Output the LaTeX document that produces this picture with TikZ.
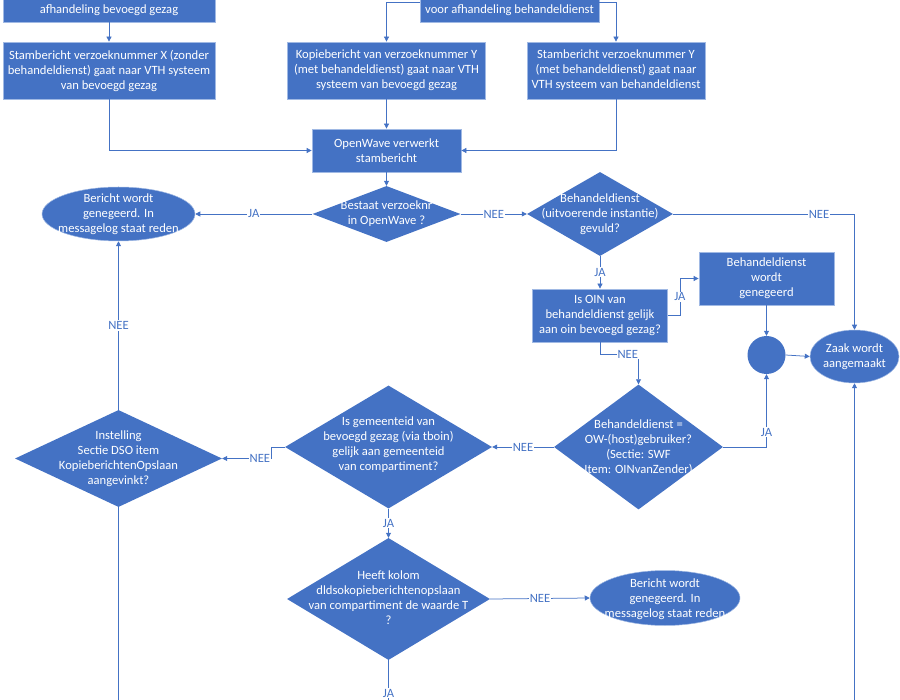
\documentclass[tikz,border=0pt]{standalone}
\usepackage{fontspec}
\setmainfont{Carlito}
\usetikzlibrary{shapes.geometric,arrows.meta}
\definecolor{ofblue}{RGB}{68,114,196}
\definecolor{edgeblue}{RGB}{160,185,228}
\begin{document}
\begin{tikzpicture}[x=1pt,y=-1pt,
  box/.style={rectangle, fill=ofblue, draw=edgeblue, line width=0.75pt, inner sep=0pt},
  dia/.style={diamond, fill=ofblue, draw=none, inner sep=0pt},
  ell/.style={ellipse, fill=ofblue, draw=edgeblue, line width=0.5pt, inner sep=0pt},
  circ/.style={circle, fill=ofblue, draw=none, inner sep=0pt, minimum size=38pt},
  txt/.style={text=white, align=center, font=\fontsize{12.6}{15}\selectfont, inner sep=0pt},
  conn/.style={draw=ofblue, line width=0.75pt, -{Triangle[length=5pt,width=5pt]}},
  plain/.style={draw=ofblue, line width=0.75pt},
  lab/.style={fill=white, text=ofblue, font=\fontsize{12.6}{15}\selectfont, inner sep=1pt}
]
\useasboundingbox (0,0) rectangle (900,700);

% top boxes (cut off)
\node[box, minimum width=212pt, minimum height=40pt] (boxA) at (109,2) {};
\node[txt] (tA) at (109,10) {afhandeling bevoegd gezag};
\node[box, minimum width=179pt, minimum height=40pt] (boxB) at (509.5,2) {};
\node[txt] (tB) at (509.5,10) {voor afhandeling behandeldienst};

% second row
\node[box, minimum width=212pt, minimum height=57pt] (box1) at (109,70.5) {};
\node[txt] at (box1) {Stambericht verzoeknummer X (zonder\\behandeldienst) gaat naar VTH systeem\\van bevoegd gezag};
\node[box, minimum width=198pt, minimum height=57pt] (box2) at (386.5,70.5) {};
\node[txt] at (box2) {Kopiebericht van verzoeknummer Y\\(met behandeldienst) gaat naar VTH\\systeem van bevoegd gezag};
\node[box, minimum width=178pt, minimum height=57pt] (box3) at (616,70.5) {};
\node[txt] at (box3) {Stambericht verzoeknummer Y\\(met behandeldienst) gaat naar\\VTH systeem van behandeldienst};

\node[box, minimum width=149pt, minimum height=43pt] (ow) at (386.5,150.5) {};
\node[txt] at (ow) {OpenWave verwerkt\\stambericht};

% decisions
\node[dia, minimum width=148pt, minimum height=56pt] (d1) at (386.5,214) {};
\node[txt] at (d1) {Bestaat verzoeknr\\in OpenWave ?};
\node[ell, minimum width=153pt, minimum height=54pt] (e1) at (118.5,214) {};
\node[txt] at (118.5,214) {Bericht wordt\\genegeerd. In\\messagelog staat reden};
\node[dia, minimum width=146pt, minimum height=84pt] (d2) at (600,214) {};
\node[txt] at (d2) {Behandeldienst\\(uitvoerende instantie)\\gevuld?};

\node[box, minimum width=135pt, minimum height=53pt] (oin) at (600,315.5) {};
\node[txt] at (oin) {Is OIN van\\behandeldienst gelijk\\aan oin bevoegd gezag?};
\node[box, minimum width=135pt, minimum height=53pt] (bg) at (766.5,278.5) {};
\node[txt] at (bg) {Behandeldienst\\wordt\\genegeerd};
\node[circ] (c) at (766.5,355) {};
\node[ell, minimum width=89pt, minimum height=53pt] (zk) at (854.5,356.5) {};
\node[txt] at (zk) {Zaak wordt\\aangemaakt};

\node[dia, minimum width=169pt, minimum height=125pt] (d3) at (638.5,447) {};
\node[txt] at (d3) {Behandeldienst =\\OW-(host)gebruiker?\\(Sectie: SWF\\Item: OINvanZender)};
\node[dia, minimum width=207pt, minimum height=123pt] (d4) at (388.5,447) {};
\node[txt] at (388.5,445) {Is gemeenteid van\\bevoegd gezag (via tboin)\\gelijk aan gemeenteid\\van compartiment?};
\node[dia, minimum width=207pt, minimum height=97pt] (d5) at (118.5,458.5) {};
\node[txt] at (d5) {Instelling\\Sectie DSO item\\KopieberichtenOpslaan\\aangevinkt?};
\node[dia, minimum width=203pt, minimum height=122pt] (d6) at (388.5,599) {};
\node[txt] at (388.5,598) {Heeft kolom\\dldsokopieberichtenopslaan\\van compartiment de waarde T\\?};
\node[ell, minimum width=150pt, minimum height=55pt] (e2) at (665,598) {};
\node[txt] at (665,599) {Bericht wordt\\genegeerd. In\\messagelog staat reden};

\coordinate (endL) at (118.5,710);
\coordinate (endM) at (388.5,720);
\coordinate (endR) at (854.5,710);

% connectors
\draw[conn] (boxA.south) -- (box1.north);
\draw[conn] (boxB.west) -| (box2.north);
\draw[conn] (boxB.east) -| (box3.north);
\draw[conn] (box1.south) |- (ow.west);
\draw[conn] (box2.south) -- (ow.north);
\draw[conn] (box3.south) |- (ow.east);
\draw[conn] (ow.south) -- (d1.north);
\draw[conn] (d1.west) -- node[lab]{JA} (e1.east);
\draw[conn] (d1.east) -- node[lab]{NEE} (d2.west);
\draw[conn] (d2.east) -| node[lab, pos=0.402]{NEE} (zk.north);
\draw[conn] (d2.south) -- node[lab]{JA} (oin.north);
\draw[conn] (oin.east) -- ++(12,0) |- node[lab, pos=0.25]{JA} (bg.west);
\draw[conn] (bg.south) -- (c.north);
\draw[conn] (c.east) -- (zk.west);
\draw[conn] (oin.south) -- ++(0,12) -| node[lab, pos=0.36]{NEE} (d3.north);
\draw[conn] (d3.east) -| node[lab, pos=0.603]{JA} (c.south);
\draw[conn] (d3.west) -- node[lab]{NEE} (d4.east);
\draw[conn] (d4.west) -- ++(-13,0) |- node[lab, pos=0.62]{NEE} (d5.east);
\draw[conn] (d5.north) -- node[lab]{NEE} (e1.south);
\draw[plain] (d5.south) -- (endL);
\draw[conn] (d4.south) -- node[lab]{JA} (d6.north);
\draw[conn] (d6.east) -- node[lab]{NEE} (e2.west);
\draw[plain] (d6.south) -- node[lab, pos=0.55]{JA} (endM);
\draw[conn] (endR) -- (zk.south);
\end{tikzpicture}
\end{document}
